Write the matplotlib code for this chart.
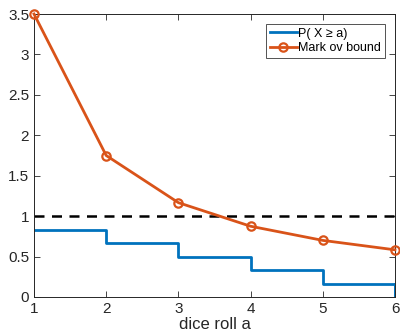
import matplotlib
matplotlib.use("Agg")
import matplotlib.pyplot as plt

rolls = [1, 2, 3, 4, 5, 6]
tail_prob = [5 / 6, 4 / 6, 3 / 6, 2 / 6, 1 / 6, 0]
markov = [3.5, 1.75, 3.5 / 3, 0.875, 0.7, 3.5 / 6]
bound_level = 1.0

plt.rcParams["font.family"] = ["Liberation Sans", "DejaVu Sans"]

fig = plt.figure(figsize=(4.0, 3.35), dpi=100)
ax = fig.add_axes([34 / 400, 38 / 335, 361 / 400, 283 / 335])

ax.step(rolls, tail_prob, where="post", color="#0072BD", lw=2, label="P( X \u2265 a)")
ax.plot([6, 6], [tail_prob[-2], 0], color="#0072BD", lw=2)
ax.plot(rolls, markov, color="#D95319", lw=2, marker="o", ms=6, mfc="none",
        mew=1.6, label="Mark ov bound", clip_on=False, zorder=5)
ax.axhline(bound_level, color="black", ls=(0, (4, 3)), lw=1.8)

ax.set_xlim(1, 6)
ax.set_ylim(0, 3.5)
ax.set_xticks(rolls)
ax.set_yticks([0, 0.5, 1, 1.5, 2, 2.5, 3, 3.5])
ax.set_yticklabels(["0", "0.5", "1", "1.5", "2", "2.5", "3", "3.5"])
ax.tick_params(direction="in", length=4, colors="#262626", labelsize=11,
               top=True, right=True, width=0.6)
for s in ax.spines.values():
    s.set_color("#262626")
    s.set_linewidth(0.7)
ax.set_xlabel("dice roll a", fontsize=12, color="#262626", labelpad=1)

leg = ax.legend(loc="upper right", fontsize=9, frameon=True, fancybox=False,
                edgecolor="#262626", handlelength=2.2, handletextpad=0.1,
                borderpad=0.3, labelspacing=0.2, borderaxespad=0.8)
leg.get_frame().set_linewidth(0.7)

fig.savefig("out.png", dpi=100)
